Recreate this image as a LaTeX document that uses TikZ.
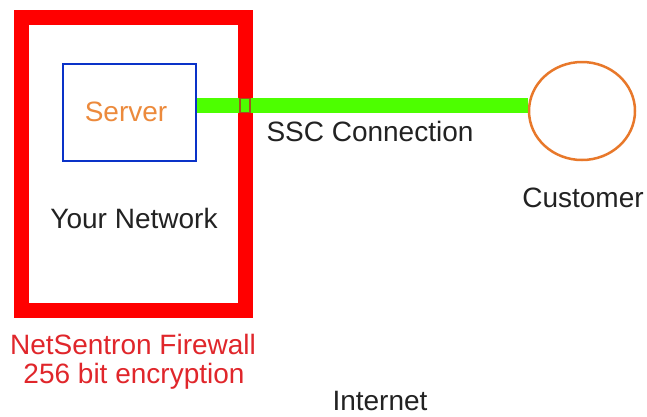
\documentclass[tikz,border=0pt]{standalone}
\usepackage{fontspec}
\setmainfont{Liberation Sans}
\usetikzlibrary{shapes.geometric}
\definecolor{fwred}{HTML}{FF0000}
\definecolor{fwtext}{HTML}{E0262B}
\definecolor{srvblue}{HTML}{0A32C8}
\definecolor{srvorange}{HTML}{EC8A3C}
\definecolor{custorange}{HTML}{E8782A}
\definecolor{linkgreen}{HTML}{4DFF00}
\definecolor{txt}{HTML}{222222}
\begin{document}
\begin{tikzpicture}[x=1pt,y=-1pt,
  lbl/.style={anchor=base,inner sep=0pt,font=\fontsize{28}{31}\selectfont,text=txt}]
\useasboundingbox (0,0) rectangle (647,416);
\fill[white] (0,0) rectangle (647,416);
% firewall frame
\node[draw=fwred,line width=15pt,minimum width=224pt,minimum height=293pt,inner sep=0pt] (fw) at (133,163.5) {};
% server box
\node[draw=srvblue,line width=2pt,minimum width=133pt,minimum height=97pt,inner sep=0pt] (srv) at (129.5,112.5) {};
% customer
\node[ellipse,draw=custorange,line width=2.5pt,minimum width=106pt,minimum height=98pt,inner sep=0pt] (cust) at (582,111) {};
% connection
\draw[linkgreen,line width=15pt] (srv.east |- 0,105.5) -- (cust.west |- 0,105.5);
\node[draw=custorange!70!black,line width=1.2pt,fill=linkgreen,minimum width=10pt,minimum height=14pt,inner sep=0pt] (port) at (245,105.5) {};
% labels
\node[lbl,text=srvorange] (srvl) at (126,121) {Server};
\node[lbl] (netl) at (134,228) {Your Network};
\node[lbl] (sscl) at (370,141) {SSC Connection};
\node[lbl] (custl) at (583,207) {Customer};
\node[lbl,text=fwtext] (fwl1) at (133,354) {NetSentron Firewall};
\node[lbl,text=fwtext] (fwl2) at (134,383) {256 bit encryption};
\node[lbl] (inet) at (380,410) {Internet};
\end{tikzpicture}
\end{document}
